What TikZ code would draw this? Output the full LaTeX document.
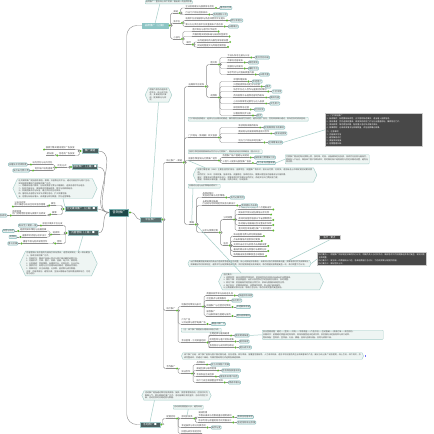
\documentclass[tikz,border=0pt]{standalone}
\usepackage{fontspec}
\newfontfamily\cjk{Noto Sans CJK SC}
\XeTeXlinebreaklocale "zh"
\XeTeXlinebreakskip=0pt plus 0.5pt
\usetikzlibrary{shapes.symbols}

\definecolor{genc}{HTML}{1D4848}
\definecolor{zhuc}{HTML}{5B7070}
\definecolor{shenc}{HTML}{4B5F5F}
\definecolor{qianc}{HTML}{8DC5C5}
\definecolor{xianc}{HTML}{8F8F8F}
\definecolor{kuangc}{HTML}{7DB5B5}
\definecolor{kuangf}{HTML}{EAF4F4}
\definecolor{zhuf}{HTML}{EEF5F3}
\definecolor{zhud}{HTML}{A6CEC9}
\definecolor{heic}{HTML}{484848}
\definecolor{lvc}{HTML}{5CB82E}
\definecolor{wenc}{HTML}{4A4A4A}

\newcommand\xz{\cjk\fontsize{2.2}{2.7}\selectfont}
\newcommand\bz{\cjk\fontsize{2}{2.6}\selectfont}
% elbow links, to the right and to the left
\newcommand\lian[2]{\draw[lk,rounded corners=1.5pt] (#1) -- ++(1,0) |- (#2);}
\newcommand\zuo[2]{\draw[lk,rounded corners=1.5pt] (#1) -- ++(-1,0) |- (#2);}

\begin{document}
\begin{tikzpicture}[x=1pt,y=-1pt,
	line join=round,
	line cap=round,
	every node/.style={font=\xz,text=wenc},
	lk/.style={draw=xianc,line width=0.45pt},
	zhux/.style={draw=zhud,line width=0.5pt},
	gen/.style={fill=genc,draw=kuangc,line width=0.5pt,text=white,font=\cjk\fontsize{3.2}{3.6}\selectfont,minimum width=19pt,minimum height=7pt,inner sep=0.8pt},
	zhu/.style={fill=zhuc,draw=kuangc!70,line width=0.4pt,text=white,font=\cjk\fontsize{2.6}{3}\selectfont,minimum height=5pt,inner sep=0.8pt},
	shen/.style={zhu,fill=shenc},
	qian/.style={zhu,fill=qianc,draw=qianc},
	ye/.style={anchor=south west,inner sep=0.35pt,append after command={(\tikzlastnode.south west) edge[lk] (\tikzlastnode.south east)}},
	yez/.style={ye,anchor=south east},
	biao/.style={draw=kuangc,fill=kuangf,rounded corners=0.8pt,line width=0.4pt,inner sep=0.6pt,anchor=west},
	biaoz/.style={biao,anchor=east},
	dian/.style={circle,fill=lvc,inner sep=0pt,minimum size=2.2pt},
	beizhu/.style={draw=zhud,fill=zhuf,line width=0.45pt,align=left,inner sep=1pt,rounded corners=0.6pt,font=\bz},
	liu/.style={beizhu,sharp corners,shape=signal,signal to=west and east,signal pointer angle=130},
	hei/.style={fill=heic,draw=black!20,line width=0.7pt,text=white,align=left,inner sep=1.3pt,font=\cjk\fontsize{2}{3}\selectfont}
	]
	\fill[white] (0,0) rectangle (434,434);
	\useasboundingbox (0,0) rectangle (434,434);

	% main topics
	\node[gen] (gen) at (119,212.5) {营销推广};
	\node[zhu,minimum width=21pt] (pt) at (150.5,219.5) {平台推广};
	\node[qian,minimum width=26pt,anchor=west] (T) at (142,25.5) {品牌推广（上篇）};
	\node[shen,minimum width=16pt] (L1) at (90,151) {推广渠道};
	\node[shen,minimum width=24pt] (L2) at (85,167) {搜索推广（上篇）■};
	\node[shen,minimum width=32pt] (L3) at (81,209) {社交媒体推广（上篇）■};
	\node[shen,minimum width=30pt] (L4) at (83,233) {内容营销（上篇）■};
	\node[shen,minimum width=20pt] (B) at (150,424.5) {活动推广 ■};
	\foreach \n in {gen,pt,T,B} \node[dian] (\n d) at ([xshift=1.3pt]\n.east) {};
	\foreach \n in {L1,L2,L3,L4} \node[dian] (\n d) at ([xshift=-1.3pt]\n.west) {};

	% top branch
	\node[ye] (t1) at (173,13) {渠道};
	\node[ye] (t1a) at (185,8) {企业官网建设与搜索排名优化};
	\node[ye] (t1b) at (185,14.5) {行业门户网站信息发布};
	\node[ye] (t2) at (173,23) {新平台};
	\node[ye] (t2a) at (185,20.5) {电商平台店铺装修与商品详情页优化提升};
	\node[ye] (t2b) at (185,26.5) {第三方分类信息平台批量发布产品信息};
	\node[ye] (t3) at (173,39) {小技巧};
	\node[ye] (t3a) at (192,31.5) {图片命名与替代文字规范};
	\node[ye] (t3b) at (192,36.5) {页面标题关键词布局与描述标签撰写};
	\node[ye] (t4) at (186,44.5) {细节};
	\node[ye] (t4a) at (197,42) {站内链接结构与面包屑导航设置};
	\node[ye] (t4b) at (197,47) {网站地图提交与死链定期检查};
	\node[beizhu,anchor=south west,inner sep=0.6pt] (tn) at (145,4) {品牌推广：整合线上线下资源，输出统一的品牌形象};

	% left branches
	\node[yez] (l1a) at (75,149.5) {搜索引擎关键词竞价广告投放};
	\node[yez] (l1b) at (75,155.5) {信息流广告投放};
	\node[yez] (l1c) at (54,155.5) {朋友圈};
	\node[yez] (l2) at (67,167.5) {优化方式};
	\node[yez] (l2a) at (53,164.5) {站内优化与站外优化};
	\node[yez] (l2b) at (53,170.5) {竞价账户结构搭建};
	\node[yez] (l3) at (56,205.5) {微信};
	\node[yez,align=left] (l3a) at (46,206.5) {公众号运营\\图文推送与粉丝互动及留存管理};
	\node[yez] (l3b) at (57,214.5) {微博};
	\node[yez,align=left] (l3c) at (46,215.5) {话题营销\\热门话题借势营销与微博大号转发};
	\node[yez] (l4a) at (63,225.5) {原创文章多平台分发};
	\node[yez] (l4b) at (60,234.5) {短视频};
	\node[yez] (l4c) at (47,231) {短视频脚本策划与拍摄剪辑};
	\node[yez] (l4d) at (47,237) {直播带货流程与话术设计};
	\node[yez] (l4e) at (62,243.5) {音频};
	\node[yez] (l4f) at (48,243.5) {播客节目与有声读物合作};
	\node[liu,text width=73pt] (n3) at (55,188.5) {社交媒体推广是指借助微信、微博、抖音等社交平台，通过内容创作与用户互动，实现品牌传播和产品销售的推广方式。\\一、明确目标用户群体，分析其使用习惯与兴趣偏好，选择合适的平台组合。\\二、制定内容日历，保持稳定的更新频率，图文与视频相结合。\\三、积极回复评论与私信，建立良好的互动关系。\\四、借助热点话题与节日节点策划活动，扩大传播范围。\\五、定期分析粉丝增长、阅读量与转化数据，优化运营策略。};
	\node[liu,text width=64pt] (n4) at (58.5,263.5) {内容营销以有价值的内容吸引目标受众，进而促成转化，是一种长期投入、持续见效的推广方式。\\1. 内容定位：围绕产品核心卖点与用户痛点确定选题方向。\\2. 内容形式：文章、图片、视频、音频、电子书、案例等。\\3. 分发渠道：官网博客、自媒体平台、问答社区、行业论坛。\\4. 搜索优化：标题与正文合理布局关键词，提高自然排名。\\5. 效果评估：关注阅读量、分享数、留资数与成交数据。\\注意：内容须原创，避免抄袭，坚持长期输出才能积累品牌影响力，切忌急功近利。};

	% platform branch
	\node[liu,text width=18pt] (np) at (158.5,95) {根据产品特点选择合适平台，线上线下结合，多渠道同步推进，提高曝光与转化。};
	\node[ye] (A) at (166,162.5) {线上推广·渠道};
	\node[ye] (A1) at (188,86.5) {自媒体平台矩阵};
	\node[ye] (A1a) at (210,64.5) {图文类};
	\foreach \n/\y/\t in {a1a1/57.5/今日头条号注册与认证,a1a2/62.5/百家号内容发布,a1a3/68.5/搜狐号与网易号,a1a4/74.5/知乎专栏与问答高质量内容}
		\node[ye] (\n) at (227,\y) {\t};
	\node[ye] (A1b) at (210,97.5) {视频类};
	\foreach \n/\y/\t in {a1b1/81.5/哔哩哔哩投稿,a1b2/86.5/抖音短视频账号定位与运营,a1b3/91.5/快手平台达人合作与直播活动策划,a1b4/97.5/西瓜视频中长视频内容制作发布,a1b5/103.5/小红书种草笔记撰写与达人投放,a1b6/109.5/微信视频号运营,a1b7/115.5/好看视频同步分发}
		\node[ye] (\n) at (233,\y) {\t};
	\node[beizhu,anchor=north west] (A2) at (188,117) {门户网站投放建议：选择与行业相关的频道，稿件需符合新闻写作规范，避免过度广告化，否则审核难以通过，发布后及时收录查询。};
	\node[ye] (A3) at (188,137.5) {门户网站（新闻源）软文投放};
	\foreach \n/\y/\t in {a31/127.5/新浪网新闻稿件发布,a32/133.5/腾讯网与网易新闻频道软文合作,a33/142.5/地方门户网站本地化推广}
		\node[ye] (\n) at (238,\y) {\t};
	\node[beizhu,anchor=north west] (A4) at (188,149.5) {搜索引擎营销需要兼顾自然优化与付费推广，两者有机结合效果最佳（重点关注）};
	\node[ye] (A5) at (188,160.5) {搜索引擎营销与付费推广组合};
	\node[ye] (a51) at (222,157.5) {百度推广账户搭建与关键词};
	\node[ye] (a52) at (222,163) {三百六十搜索与搜狗推广投放};
	\node[liu,text width=115pt] (A6) at (255,175) {搜索引擎营销（SEM）主要包括竞价排名、品牌专区、网盟推广等形式，按点击付费，见效快，适合新品上市和促销活动期间使用。\\自然优化（SEO）见效较慢，但成本低、流量稳定、持续时间长，需要长期坚持内容建设与外链积累。\\建议：预算充足时两者同步进行，预算有限时优先做好自然优化，再逐步加大付费投放力度。\\数据：每周统计展现量、点击量、消费与转化，形成报表。};
	\node[beizhu,anchor=north west] (A7) at (188,184) {关键词分组与出价策略说明如下：};
	\node[ye] (A8) at (189,224.5) {策略};
	\node[ye,align=left] (a81) at (202,197.5) {品牌词保护\\竞品词拦截与比价策略};
	\node[ye,align=left] (a82) at (202,205.5) {长尾关键词拓展\\行业词与地域词组合投放方案设计};
	\node[ye] (a83) at (202,232.5) {出价与预算控制};
	\node[ye] (a84) at (223,219.5) {分时调整};
	\foreach \n/\y/\t in {a841/209.5/工作日上午九点至十二点提高出价,a842/214.5/周末及节假日适当降低出价比例,a843/220/夜间时段暂停投放以节省预算费用,a844/225/移动端与电脑端分别设置出价系数,a845/230.5/重点地区单独建立推广计划并提价}
		\node[ye] (\n) at (238,\y) {\t};
	\node[ye] (a85) at (223,245.5) {监控};
	\foreach \n/\y/\t in {a851/236/每日查看消费与转化数据报表,a852/241/点击率偏低的创意及时更换,a853/246/无效点击过滤与恶意点击屏蔽设置,a854/251/着陆页跳出率与停留时长跟踪分析,a855/256/每周输出投放效果复盘总结报告}
		\node[ye] (\n) at (233,\y) {\t};
	\node[liu,text width=118pt] (N7) at (249.5,263.5) {出价策略要根据关键词的商业价值和竞争程度灵活调整，核心词保证排名靠前，长尾词以低价获取精准流量；预算有限时优先保障转化效果最好的时段和地区，避免平均分配预算造成浪费，同时定期清理无效关键词，每月根据投放数据复盘一次，及时调整下月计划。};
	\node[liu,text width=95pt] (N8) at (271,281.5) {监控要点：\\1. 消费异常：单日消费突然增加时，检查是否存在恶意点击或出价设置错误。\\2. 排名下降：检查质量度、出价以及竞争对手的投放变化情况，及时调整。\\3. 转化下降：检查着陆页是否能正常打开，表单与客服系统是否正常。\\4. 账户安全：定期修改密码，设置操作权限，防止账户被误操作。\\以上数据建议每日记录，每周汇总分析，每月形成完整的复盘报告。};

	\node[ye] (C) at (166,310.5) {线下推广};
	\node[ye] (C1) at (181,306.5) {地推活动策划与执行};
	\foreach \n/\y/\t in {c11/295.5/商圈派发传单与扫码送礼品,c12/300.5/社区摆点与便民服务,c13/307/校园推广与社团活动赞助}
		\node[ye] (\n) at (206,\y) {\t};
	\node[ye,align=left] (c14) at (206,316) {展会推广\\行业展会展位搭建与接待};
	\node[ye,align=left] (C2) at (181,324) {户外广告\\公交站牌与楼宇电梯广告};
	\node[beizhu,anchor=north west] (C3) at (181,328) {（注：线下推广需提前办理相关审批手续）};
	\node[ye] (C4) at (181,342.5) {会议营销·沙龙讲座组织};
	\foreach \n/\y/\t in {c41/335.5/主题选择与嘉宾邀请,c42/341.5/现场签到与客户资料收集,c43/347.5/会后回访与成交转化跟进}
		\node[ye] (\n) at (209,\y) {\t};
	\node[ye] (D) at (166,368.5) {合作推广};
	\node[ye] (D1) at (181,373.5) {异业合作};
	\foreach \n/\y/\t in {d11/364.5/品牌联名,d12/370.5/渠道互换与联合促销,d13/376.5/会员权益互通互享,d14/382.5/线下门店互相放置宣传物料}
		\node[ye] (\n) at (196,\y) {\t};

	% activity branch
	\node[liu,text width=63pt] (Bn) at (176.5,395.5) {活动推广是指通过策划各类促销、抽奖、拼团等营销活动，在短时间内聚集人气、提升销量的推广方式。活动前做好预热宣传，活动中把控节奏，活动后及时总结经验与数据。};
	\node[beizhu,anchor=north west] (Bn2) at (173,405) {活动规则需提前公示，避免纠纷};
	\node[ye] (Ba) at (166,418.5) {促销活动};
	\node[ye] (Ba1) at (181,418.5) {限时折扣类};
	\node[ye,align=left] (ba11) at (198,417) {满减优惠\\节假日满减与优惠券叠加使用规则};
	\node[ye] (ba12) at (198,422.5) {秒杀专场与限量抢购活动页面设计};
	\node[ye] (Bb) at (181,427.5) {幸运抽奖与积分兑换活动};
	\node[ye] (Bc) at (181,433.5) {拼团与砍价裂变活动};

	% expand dots
	\foreach \n in {t1,t1a,t1b,t2,t2a,t2b,t3,t3a,t3b,t4,t4a,t4b,A,A1,A1a,a1a1,a1a2,a1a3,a1a4,A1b,a1b1,a1b2,a1b3,a1b4,a1b5,a1b6,a1b7,A3,a31,a32,a33,A5,a51,a52,A8,a81,a82,a83,a84,a841,a842,a843,a844,a845,a85,a851,a852,a853,a854,a855,C,C1,c11,c12,c13,c14,C2,C4,c41,c42,c43,D,D1,d11,d12,d13,d14,Ba,Ba1,ba11,ba12,Bb}
		\node[dian] (\n d) at ([xshift=1.2pt]\n.south east) {};
	\foreach \n in {l1a,l1b,l2,l2a,l2b,l3,l3a,l3b,l3c,l4a,l4b,l4c,l4d,l4e,l4f}
		\node[dian] (\n d) at ([xshift=-1.2pt]\n.south west) {};

	% tag boxes
	\foreach \n/\t in {t1a/重点执行项,t1b/每周更新三次,t2a/转化率提升,t2b/长期维护,a1a1/重点优先布局,a1a2/稳定更新,a1a3/辅助平台,a1a4/长尾流量,a1b1/年轻用户,a1b2/重点,a1b3/下沉市场,a1b4/横屏内容,a1b5/女性用户,a1b6/社交裂变,a1b7/同步,a31/权威媒体背书效果好,a32/收录速度快,a33/区域精准投放,a51/按效果付费精准引流,a52/作为补充流量来源,a81/每月必做项目,a82/有效提升点击率,c11/快速获取线索,c12/贴近用户,c13/年轻群体渗透,c14/提升品牌曝光,C2/覆盖人群广泛,c41/提前两周准备,c42/留存线索,c43/提升成交率,d11/双方共享客户资源,d12/有效降低获客成本,d13/增强会员用户粘性,d14/零成本曝光,ba11/有效拉动客单价,ba12/营造抢购紧迫氛围,Bb/高参与度}
		\node[biao] (\n b) at ([xshift=2.2pt]\n d.east) {\t};
	\foreach \n/\t in {l2a/白帽技术持续积累,l2b/按点击付费计费,l3c/低成本,l4a/每日至少更新一篇,l4c/抖音与快手,l4d/视频号,l4f/喜马拉雅}
		\node[biaoz] (\n b) at ([xshift=-2.2pt]\n d.west) {\t};
	\foreach \n in {t1a,t1b,t2a,t2b,a1a1,a1a2,a1a3,a1a4,a1b1,a1b2,a1b3,a1b4,a1b5,a1b6,a1b7,a31,a32,a33,a51,a52,a81,a82,c11,c12,c13,c14,C2,c41,c42,c43,d11,d12,d13,d14,ba11,ba12,Bb,l2a,l2b,l3c,l4a,l4c,l4d,l4f}
		\draw[lk] (\n d) -- (\n b);

	% dark notes
	\node[hei,anchor=north west,text width=94pt] (DB1) at (325,113) {一、门户网站推广\\1. 新闻稿件：标题要有新闻性，正文客观陈述事实，适当植入品牌信息。\\2. 发布渠道：优先选择权重高、收录快的综合门户与行业垂直网站，兼顾地方门户。\\3. 发布频率：每月两至四篇，配合重大活动节点集中发布。\\4. 效果跟踪：记录收录情况与转载数量，评估品牌曝光效果。\\[1.5pt]二、注意事项\\1. 内容真实可信\\2. 避免敏感词汇\\3. 保留发布链接\\4. 定期整理归档};
	\node[beizhu,anchor=north west,text width=82pt] (N5) at (285,154.5) {付费推广需设定每日预算上限，按地域、时段、设备精准定向投放，持续优化创意与着陆页，提高投入产出比，降低单个客户获取成本；同时做好账户结构规划与否定关键词设置，避免无效消费。};
	\node[hei,inner sep=1pt,font=\cjk\fontsize{2.4}{2.8}\selectfont,minimum width=21pt] (DN) at (329.5,237.5) {执行·要点};
	\node[hei,anchor=north west,text width=106pt] (DB2) at (317,252) {执行要点一：根据推广目标制定详细的执行计划，明确负责人与时间节点，确保各项工作按期推进并及时复盘，发现问题立即调整。\\执行要点二：建立统一的数据统计口径，各渠道数据汇总对比，为后续预算分配提供依据。\\执行要点三：做好团队分工。};
	\node[beizhu,anchor=north west,text width=119pt] (C5) at (262,330) {会议营销流程：邀约——签到——开场——专家讲座——产品介绍——互动答疑——促成订单——会后回访。\\关键环节：前期邀约质量决定到场率，现场氛围营造决定成交率，会后服务决定复购率与转介绍率。\\物料准备：签到表、宣传册、礼品、横幅、音响与投影设备、合同与收款工具。};
	\node[liu,text width=177pt] (C6) at (272.5,356) {线下推广总结：线下推广能够与客户面对面沟通，信任感强、转化率高，但覆盖范围有限、人力成本较高，适合本地化服务类企业和高客单价产品；建议与线上推广结合使用，线上引流、线下成交，形成完整闭环，并通过二维码、专属优惠码等方式追踪各渠道效果。};
	\node[fill=blue!55,inner sep=0pt,minimum size=1.5pt] (C6q) at ([xshift=1.8pt]C6.east) {};

	% links from the root
	\foreach \z in {L1,L2,L3,L4} \draw[lk] (gen.west) to[out=180,in=0] (\z.east);
	\draw[lk,rounded corners=10pt] ([xshift=-2pt]gen.north east) |- (T.west);
	\draw[lk,rounded corners=10pt] ([xshift=-2pt]gen.south east) |- (B.west);
	\draw[lk] (gend) to[out=0,in=180] (pt.west);

	% right links
	\foreach \p/\c in {Td/t1,Td/t2,Td/t3,t1d/t1a,t1d/t1b,t2d/t2a,t2d/t2b,t3d/t3a,t3d/t3b,t3d/t4,t4d/t4a,t4d/t4b,ptd/A,ptd/C,ptd/D,Ad/A1,Ad/A3,Ad/A5,Ad/A8,A1d/A1a,A1d/A1b,A1ad/a1a1,A1ad/a1a2,A1ad/a1a3,A1ad/a1a4,A1bd/a1b1,A1bd/a1b2,A1bd/a1b3,A1bd/a1b4,A1bd/a1b5,A1bd/a1b6,A1bd/a1b7,A3d/a31,A3d/a32,A3d/a33,A5d/a51,A5d/a52,A8d/a81,A8d/a82,A8d/a83,a83d/a84,a83d/a85,a84d/a841,a84d/a842,a84d/a843,a84d/a844,a84d/a845,a85d/a851,a85d/a852,a85d/a853,a85d/a854,a85d/a855,Cd/C1,Cd/C2,Cd/C4,C1d/c11,C1d/c12,C1d/c13,C1d/c14,C4d/c41,C4d/c42,C4d/c43,Dd/D1,D1d/d11,D1d/d12,D1d/d13,D1d/d14,Bd/Ba,Bad/Ba1,Bad/Bb,Bad/Bc,Ba1d/ba11,Ba1d/ba12}
		{\lian{\p}{\c.south west}}
	% left links
	\foreach \p/\c in {L1d/l1a,L1d/l1b,l1bd/l1c,L2d/l2,l2d/l2a,l2d/l2b,L3d/l3,L3d/l3b,l3d/l3a,l3bd/l3c,L4d/l4a,L4d/l4b,L4d/l4e,l4bd/l4c,l4bd/l4d,l4ed/l4f}
		{\zuo{\p}{\c.south east}}

	% note pointers
	\draw[zhux] ([xshift=-9pt]tn.south) -- (T.north);
	\draw[zhux] (np.south) -- (pt.north);
	\draw[zhux] ([xshift=8pt]n3.south) -- (L3.north west);
	\draw[zhux] ([xshift=20pt]n4.north) -- (L4.south);
	\draw[zhux] ([xshift=-50pt]A6.north) -- (A5.south west);
	\draw[zhux] ([xshift=5pt]A7.south west) -- (A8.north);
	\draw[zhux] (A8d) -- ([xshift=-30pt]N8.north);
	\draw[zhux] (DN.south) -- ([xshift=40pt]N7.north);
	\draw[zhux] (DB2.west) -- (N7.east);
	\draw[zhux] (DB1.west) -- (a33b.east);
	\draw[zhux] (a52b.east) -- (N5.west);
	\draw[zhux] (C5.west) -- (c41b.east);
	\draw[zhux] ([xshift=-22pt]Bn.south) -- (B.north);
	\draw[zhux] (Bn2.south) -- (Ba1.north);
\end{tikzpicture}
\end{document}
